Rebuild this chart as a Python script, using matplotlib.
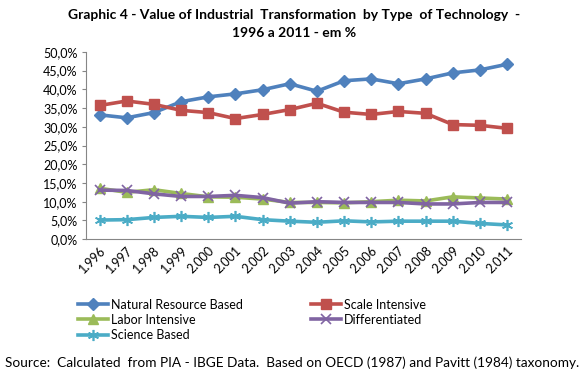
import matplotlib
matplotlib.use("Agg")
import matplotlib.pyplot as plt

plt.rcParams['font.family'] = ['Lato', 'DejaVu Sans']

# annees (format du graphique original)
years = ["1.996", "1.997", "1.998", "1.999", "2.000", "2.001", "2.002", "2.003",
         "2.004", "2.005", "2.006", "2.007", "2.008", "2.009", "2.010", "2.011"]

natural_resource = [33.2, 32.4, 33.8, 36.7, 38.0, 38.8, 39.9, 41.5,
                    39.5, 42.3, 42.8, 41.5, 42.8, 44.4, 45.2, 46.7]
scale_intensive = [35.7, 36.9, 36.0, 34.4, 33.8, 32.2, 33.3, 34.6,
                   36.3, 33.9, 33.3, 34.1, 33.6, 30.6, 30.4, 29.6]
labor_intensive = [13.6, 12.5, 13.2, 12.2, 11.3, 11.2, 10.7, 9.8,
                   9.8, 9.7, 10.0, 10.4, 10.2, 11.3, 11.0, 10.7]
differentiated = [13.1, 13.0, 12.1, 11.4, 11.4, 11.7, 11.1, 9.6,
                  10.0, 9.8, 9.8, 9.8, 9.4, 9.4, 9.8, 9.8]
science_based = [5.1, 5.2, 5.8, 6.1, 5.8, 6.1, 5.2, 4.8,
                 4.5, 4.9, 4.6, 4.8, 4.8, 4.8, 4.2, 3.8]

yticks = [0, 5, 10, 15, 20, 25, 30, 35, 40, 45, 50]

fig = plt.figure(figsize=(5.85, 3.79), dpi=100)
ax = fig.add_axes([0.147, 0.369, 0.743, 0.494])

x = range(len(years))
lw = 2.6
l1, = ax.plot(x, natural_resource, color='#4F81BD', lw=lw, marker='D', ms=6,
              label='Natural Resource Based')
l2, = ax.plot(x, scale_intensive, color='#C0504D', lw=lw, marker='s', ms=7,
              label='Scale Intensive')
l3, = ax.plot(x, labor_intensive, color='#9BBB59', lw=lw, marker='^', ms=7,
              label='Labor Intensive')
l4, = ax.plot(x, differentiated, color='#8064A2', lw=lw, marker='x', ms=7, mew=1.2,
              label='Differentiated')
l5, = ax.plot(x, science_based, color='#4BACC6', lw=lw, marker=(6, 2, 0), ms=8, mew=1.2,
              label='Science Based')

ax.set_xlim(-0.5, len(years) - 0.5)
ax.set_ylim(0, 50)
ax.set_yticks(yticks)
ax.set_yticklabels([f"{v:.1f}%".replace('.', ',') for v in yticks], fontsize=9)
ax.set_xticks(list(x))
ax.set_xticklabels(years, rotation=45, ha='right', rotation_mode='anchor', fontsize=9)
ax.tick_params(axis='x', length=0, pad=4)
ax.tick_params(axis='y', length=3, color='#868686', pad=3)

for s in ['top', 'right']:
    ax.spines[s].set_visible(False)
for s in ['left', 'bottom']:
    ax.spines[s].set_color('#868686')

fig.text(0.503, 0.96, "Graphic 4 - Value of Industrial  Transformation  by Type  of Technology  -",
         ha='center', va='center', fontsize=10, fontweight='bold')
fig.text(0.503, 0.913, "1996 a 2011 - em %", ha='center', va='center',
         fontsize=10, fontweight='bold')

# ordre par lignes comme dans l'original
handles = [l1, l3, l5, l2, l4]
fig.legend(handles, [h.get_label() for h in handles],
           loc='upper left', bbox_to_anchor=(0.125, 0.225), ncol=2, frameon=False,
           fontsize=9, handlelength=2.4, handletextpad=0.2, columnspacing=5.5,
           labelspacing=0.25, borderaxespad=0)

fig.text(0.5, 0.042, "Source:  Calculated  from PIA - IBGE Data.  Based on OECD (1987) and Pavitt (1984) taxonomy.",
         ha='center', va='center', fontsize=9.8)

fig.savefig("out.png", dpi=100)
